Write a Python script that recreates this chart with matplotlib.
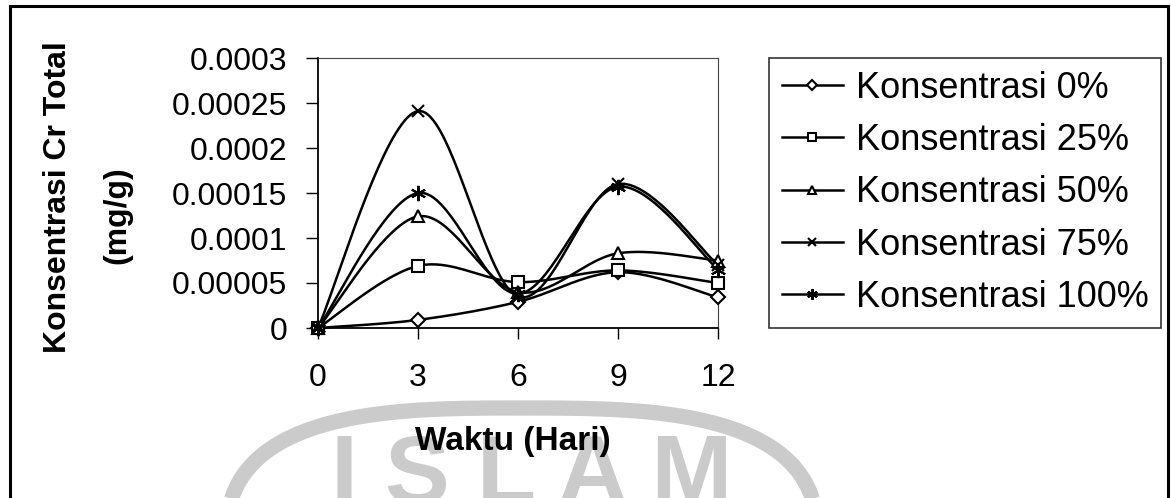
import numpy as np
import matplotlib
matplotlib.use("Agg")
import matplotlib.pyplot as plt
from matplotlib.legend_handler import HandlerTuple

plt.rcParams['font.family'] = ['Liberation Sans', 'DejaVu Sans']

# Data: total Cr concentration (mg/g) per sampling day
days = [0, 3, 6, 9, 12]
conc_0 = [0, 0.000009, 0.000029, 0.000062, 0.000034]
conc_25 = [0, 0.000069, 0.000051, 0.000064, 0.000050]
conc_50 = [0, 0.000124, 0.000040, 0.000083, 0.000075]
conc_75 = [0, 0.000241, 0.000035, 0.000160, 0.000070]
conc_100 = [0, 0.000150, 0.000038, 0.000157, 0.000065]

series_labels = ["Konsentrasi 0%", "Konsentrasi 25%", "Konsentrasi 50%",
                 "Konsentrasi 75%", "Konsentrasi 100%"]
y_ticks = [0, 0.00005, 0.0001, 0.00015, 0.0002, 0.00025, 0.0003]
y_tick_labels = ["0", "0.00005", "0.0001", "0.00015", "0.0002", "0.00025", "0.0003"]
x_ticks = [0, 3, 6, 9, 12]


def smooth_curve(xs, ys, n=40):
    # Excel-style smoothed line: cubic Bezier segments, Catmull-Rom control points
    pts = np.column_stack([xs, ys]).astype(float)
    out = []
    for i in range(len(pts) - 1):
        p0 = pts[i - 1] if i > 0 else pts[i]
        p1, p2 = pts[i], pts[i + 1]
        p3 = pts[i + 2] if i + 2 < len(pts) else pts[i + 1]
        c1 = p1 + (p2 - p0) / 6
        c2 = p2 - (p3 - p1) / 6
        t = np.linspace(0, 1, n)[:, None]
        seg = ((1 - t) ** 3) * p1 + 3 * ((1 - t) ** 2) * t * c1 + 3 * (1 - t) * t ** 2 * c2 + t ** 3 * p2
        out.append(seg if i == 0 else seg[1:])
    return np.vstack(out)


W, H = 1171, 498
fig = plt.figure(figsize=(W / 100, H / 100), dpi=100)

# faint watermark behind everything
bg = fig.add_axes([0, 0, 1, 1], zorder=-1)
bg.set_xlim(0, W)
bg.set_ylim(H, 0)
bg.axis("off")
t = np.linspace(0, 2 * np.pi, 400)
cx, cy, a, b, p = 522, 560, 297, 152, 3
ex = cx + a * np.sign(np.cos(t)) * np.abs(np.cos(t)) ** (2 / p)
ey = cy - b * np.sign(np.sin(t)) * np.abs(np.sin(t)) ** (2 / p)
bg.plot(ex, ey, color="#cbcbcb", lw=11, solid_capstyle="butt")
bg.text(532, 433, "I S L A M", color="#cbcbcb", fontsize=70, fontweight="bold",
        ha="center", va="top")

# outer chart frame (open at the bottom)
frame_kw = dict(color="black", lw=2.2)
bg.plot([10, 10], [6, H + 5], **frame_kw)
bg.plot([10, 1168], [6, 6], **frame_kw)
bg.plot([1168, 1168], [6, H + 5], **frame_kw)

ax = fig.add_axes([318 / W, (H - 328) / H, 400 / W, 270 / H])

markers = [
    dict(marker="D", ms=7),
    dict(marker="s", ms=8),
    dict(marker="^", ms=9),
    dict(marker="x", ms=9),
    dict(marker=(6, 2, 0), ms=11),
]
all_series = [conc_0, conc_25, conc_50, conc_75, conc_100]
handles = []
for vals, mk in zip(all_series, markers):
    curve = smooth_curve(days, vals)
    ln, = ax.plot(curve[:, 0], curve[:, 1], color="black", lw=1.8, clip_on=False, zorder=2)
    pts, = ax.plot(days, vals, linestyle="none", color="black", mfc="white",
                   mew=1.5, clip_on=False, zorder=3, **mk)
    handles.append((ln, pts))

ax.set_xlim(0, 12)
ax.set_ylim(0, 0.0003)
ax.set_xticks(x_ticks)
ax.set_xticklabels([str(d) for d in x_ticks])
ax.set_yticks(y_ticks)
ax.set_yticklabels(y_tick_labels)
ax.tick_params(axis="y", direction="out", length=9, width=1, pad=13, labelsize=23)
ax.tick_params(axis="x", direction="out", length=8, width=1, pad=17, labelsize=23)
for side in ["left", "bottom"]:
    ax.spines[side].set_linewidth(1.3)
for side in ["top", "right"]:
    ax.spines[side].set_linewidth(0.8)
    ax.spines[side].set_color("#444444")

fig.text(58 / W, 1 - 197 / H, "Konsentrasi Cr Total", rotation=90, ha="center", va="center",
         fontsize=23, fontweight="bold")
fig.text(117 / W, 1 - 215 / H, "(mg/g)", rotation=90, ha="center", va="center",
         fontsize=23, fontweight="bold")
fig.text(513 / W, 1 - 441 / H, "Waktu (Hari)", ha="center", va="center",
         fontsize=24, fontweight="bold")

leg = fig.legend(handles, series_labels, loc="upper left",
                 bbox_to_anchor=(769 / W, 1 - 58 / H), borderaxespad=0,
                 handler_map={tuple: HandlerTuple(ndivide=1)},
                 numpoints=1, markerscale=0.7, fontsize=26, frameon=True, fancybox=False,
                 edgecolor="black", borderpad=0.35, labelspacing=0.48,
                 handlelength=1.7, handletextpad=0.35)
leg.get_frame().set_linewidth(1.2)

fig.savefig("out.png", dpi=100)
